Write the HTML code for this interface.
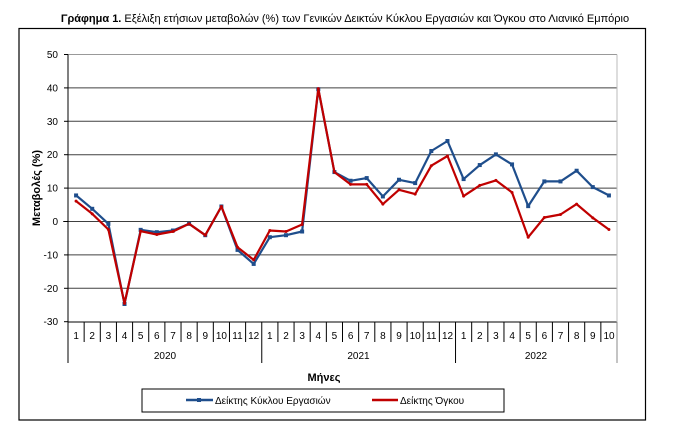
<!DOCTYPE html>
<html><head><meta charset="utf-8"><style>
body{margin:0;background:#fff;}
svg{display:block;font-family:"Liberation Sans","DejaVu Sans",sans-serif;}
</style></head><body>
<svg id="s" width="686" height="431" viewBox="0 0 686 431" xmlns="http://www.w3.org/2000/svg">
<rect width="686" height="431" fill="#fff"/>
<text x="345" y="22" font-size="11" text-anchor="middle" fill="#000"><tspan font-weight="bold">Γράφημα 1.</tspan> Εξέλιξη ετήσιων μεταβολών (%) των Γενικών Δεικτών Κύκλου Εργασιών και Όγκου στο Λιανικό Εμπόριο</text>
<rect x="19" y="28.5" width="626.5" height="391.5" fill="none" stroke="#000" stroke-width="1.2"/>
<g id="grid" stroke="#404040" stroke-width="1"></g>
<line x1="617" y1="54.5" x2="617" y2="322" stroke="#bbb"/>
<line x1="68" y1="54.5" x2="68" y2="322" stroke="#000"/>
<g font-size="10" text-anchor="end" fill="#000">
<text x="58" y="58">50</text><text x="58" y="91.5">40</text><text x="58" y="125">30</text><text x="58" y="158">20</text><text x="58" y="191.5">10</text><text x="58" y="225">0</text><text x="58" y="258.5">-10</text><text x="58" y="292">-20</text><text x="58" y="325">-30</text>
</g>
<text transform="translate(40,188) rotate(-90)" font-size="11" font-weight="bold" text-anchor="middle">Μεταβολές (%)</text>
<g id="ticks" stroke="#000" stroke-width="1"></g>
<g font-size="10" text-anchor="middle" fill="#000">
<text x="76.1" y="339">1</text><text x="92.2" y="339">2</text><text x="108.4" y="339">3</text><text x="124.5" y="339">4</text><text x="140.7" y="339">5</text><text x="156.8" y="339">6</text><text x="173" y="339">7</text><text x="189.1" y="339">8</text><text x="205.3" y="339">9</text><text x="221.4" y="339">10</text><text x="237.5" y="339">11</text><text x="253.7" y="339">12</text>
<text x="269.8" y="339">1</text><text x="286" y="339">2</text><text x="302.1" y="339">3</text><text x="318.3" y="339">4</text><text x="334.4" y="339">5</text><text x="350.6" y="339">6</text><text x="366.7" y="339">7</text><text x="382.9" y="339">8</text><text x="399" y="339">9</text><text x="415.2" y="339">10</text><text x="431.3" y="339">11</text><text x="447.5" y="339">12</text>
<text x="463.6" y="339">1</text><text x="479.8" y="339">2</text><text x="495.9" y="339">3</text><text x="512.1" y="339">4</text><text x="528.2" y="339">5</text><text x="544.4" y="339">6</text><text x="560.5" y="339">7</text><text x="576.7" y="339">8</text><text x="592.8" y="339">9</text><text x="609" y="339">10</text>
<text x="165" y="359">2020</text><text x="358.5" y="359">2021</text><text x="536" y="359">2022</text>
</g>
<text x="324" y="381" font-size="11" font-weight="bold" text-anchor="middle">Μήνες</text>
<rect x="142" y="389" width="362" height="23" fill="#fff" stroke="#000"/>
<line x1="186" y1="400" x2="213" y2="400" stroke="#1f4e8c" stroke-width="2.5"/>
<rect x="197" y="398" width="4" height="4" fill="#1f4e8c"/>
<text x="215" y="404" font-size="10">Δείκτης Κύκλου Εργασιών</text>
<line x1="372" y1="400" x2="398" y2="400" stroke="#c00000" stroke-width="2.5"/>
<text x="400" y="404" font-size="10">Δείκτης Όγκου</text>
<g id="series"></g>
</svg>
<script>
var NS="http://www.w3.org/2000/svg";
function el(p,t,a){var e=document.createElementNS(NS,t);for(var k in a)e.setAttribute(k,a[k]);p.appendChild(e);return e;}
var g=document.getElementById('grid');
for(var v=-20;v<=50;v+=10){var y=221.5-v*3.34;el(g,'line',{x1:68,x2:617,y1:y,y2:y,stroke:v==50?'#999':'#404040'});}
el(g,'line',{x1:63,x2:68,y1:221.5,y2:221.5});
for(var v=-30;v<=50;v+=10){var y=221.5-v*3.34;el(g,'line',{x1:64,x2:68,y1:y,y2:y,stroke:'#000'});}
el(g,'line',{x1:68,x2:617,y1:322,y2:322,stroke:'#000'});
var t=document.getElementById('ticks');
var w=549/34;
for(var i=0;i<=34;i++){var x=68+w*i;var big=(i%12==0||i==34);el(t,'line',{x1:x,x2:x,y1:322,y2:big?363:342,stroke:(i==34)?'#888':'#000'});}
var blue=[7.8,3.8,-0.7,-24.7,-2.5,-3.2,-2.7,-0.7,-4.1,4.5,-8.5,-12.7,-4.7,-4.1,-3,39.6,14.8,12.2,13,7.5,12.5,11.5,21.1,24.1,12.7,16.9,20.1,17.1,4.6,12,12,15.2,10.3,7.8];
var red=[6.1,2.3,-2.4,-24.5,-2.9,-3.9,-3,-0.7,-4.1,4.5,-7.7,-11.5,-2.7,-3,-0.9,39.8,14.8,11.1,11.1,5.2,9.5,8.2,16.7,19.6,7.6,10.8,12.3,8.7,-4.7,1.2,2.1,5.2,1.1,-2.4];
var s=document.getElementById('series');
function draw(d,c,sq){var pts=d.map(function(v,i){return (68+w*(i+0.5)).toFixed(1)+','+(221.5-v*3.34).toFixed(1);});
el(s,'polyline',{points:pts.join(' '),fill:'none',stroke:c,'stroke-width':2.2,'stroke-linejoin':'round'});
d.forEach(function(v,i){var x=68+w*(i+0.5),y=221.5-v*3.34;if(sq)el(s,'rect',{x:x-2,y:y-2,width:4,height:4,fill:c});else el(s,'circle',{cx:x,cy:y,r:1.5,fill:c});});}
draw(blue,'#1f4e8c',true);
draw(red,'#c00000',false);
</script>
</body></html>
